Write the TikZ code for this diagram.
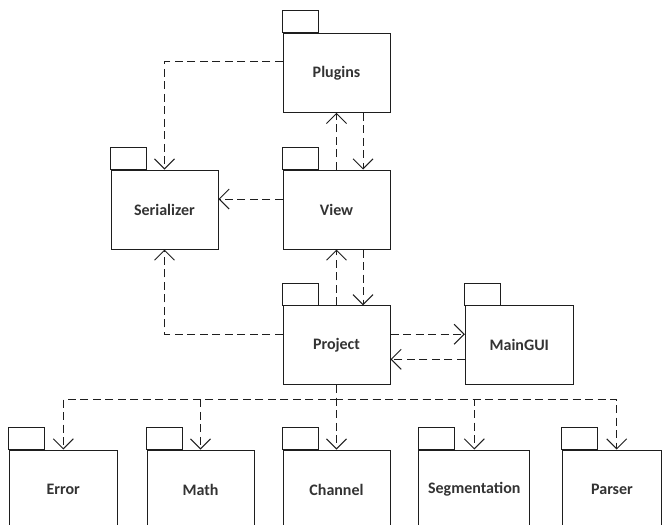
\documentclass[tikz,border=0pt]{standalone}
\usepackage{fontspec}
\setmainfont{Carlito}
\usetikzlibrary{arrows.meta}
\definecolor{ink}{RGB}{30,30,30}
\definecolor{txt}{RGB}{51,51,51}
\begin{document}
\begin{tikzpicture}[x=1pt,y=-1pt,
  pkg/.style={draw=ink, line width=1pt, rectangle, minimum width=107pt, minimum height=79pt,
    inner sep=0pt, text=txt, font=\fontsize{16}{18}\selectfont\bfseries,
    append after command={\pgfextra{\draw[draw=ink, line width=1pt]
      (\tikzlastnode.north west) rectangle ++(36pt,22pt);}}},
  dep/.style={draw=ink, line width=1pt, dash pattern=on 8pt off 4.5pt,
    -{Straight Barb[length=10pt,width=20pt]}}]
\path[use as bounding box, clip] (0,0) rectangle (662,525);

% packages
\node[pkg] (plugins) at (336.5,72.8) {Plugins};
\node[pkg] (serializer) at (164.5,209.5) {Serializer};
\node[pkg] (view) at (336.5,209.5) {View};
\node[pkg] (project) at (336.5,345.3) {Project};
\node[pkg, minimum width=108pt] (maingui) at (519.3,345.3) {MainGUI};
\node[pkg, minimum width=108pt] (error) at (63.3,489.5) {Error};
\node[pkg] (math) at (200.5,489.5) {Math};
\node[pkg] (channel) at (336.5,489.5) {Channel};
\node[pkg, minimum width=111.3pt] (segmentation) at (474.3,489.5) {Segmentation};
\node[pkg, minimum width=99.4pt] (parser) at (612,489.5) {Parser};

% dependencies
\draw[dep] ([yshift=11pt]plugins.west) -| (serializer.north);
\draw[dep] (view.north) -- (plugins.south);
\draw[dep] ([xshift=26.5pt]plugins.south) -- ([xshift=26.5pt]view.north);
\draw[dep] ([yshift=10.5pt]view.west) -- ([yshift=10.5pt]serializer.east);
\draw[dep] (project.north) -- (view.south);
\draw[dep] ([xshift=26.5pt]view.south) -- ([xshift=26.5pt]project.north);
\draw[dep] ([yshift=11pt]project.west) -| (serializer.south);
\draw[dep] ([yshift=11pt]project.east) -- ([yshift=11pt]maingui.west);
\draw[dep] ([yshift=-14pt]maingui.west) -- ([yshift=-14pt]project.east);

% fan-out to the lower packages
\coordinate (bus) at (336.5,399.3);
\draw[dep] (project.south) -- (bus) -| (error.north);
\draw[dep] (project.south) -- (bus) -| (math.north);
\draw[dep] (project.south) -- (channel.north);
\draw[dep] (project.south) -- (bus) -| (segmentation.north);
\draw[dep] (project.south) -- (bus) -| ([xshift=4.7pt]parser.north);
\end{tikzpicture}
\end{document}
